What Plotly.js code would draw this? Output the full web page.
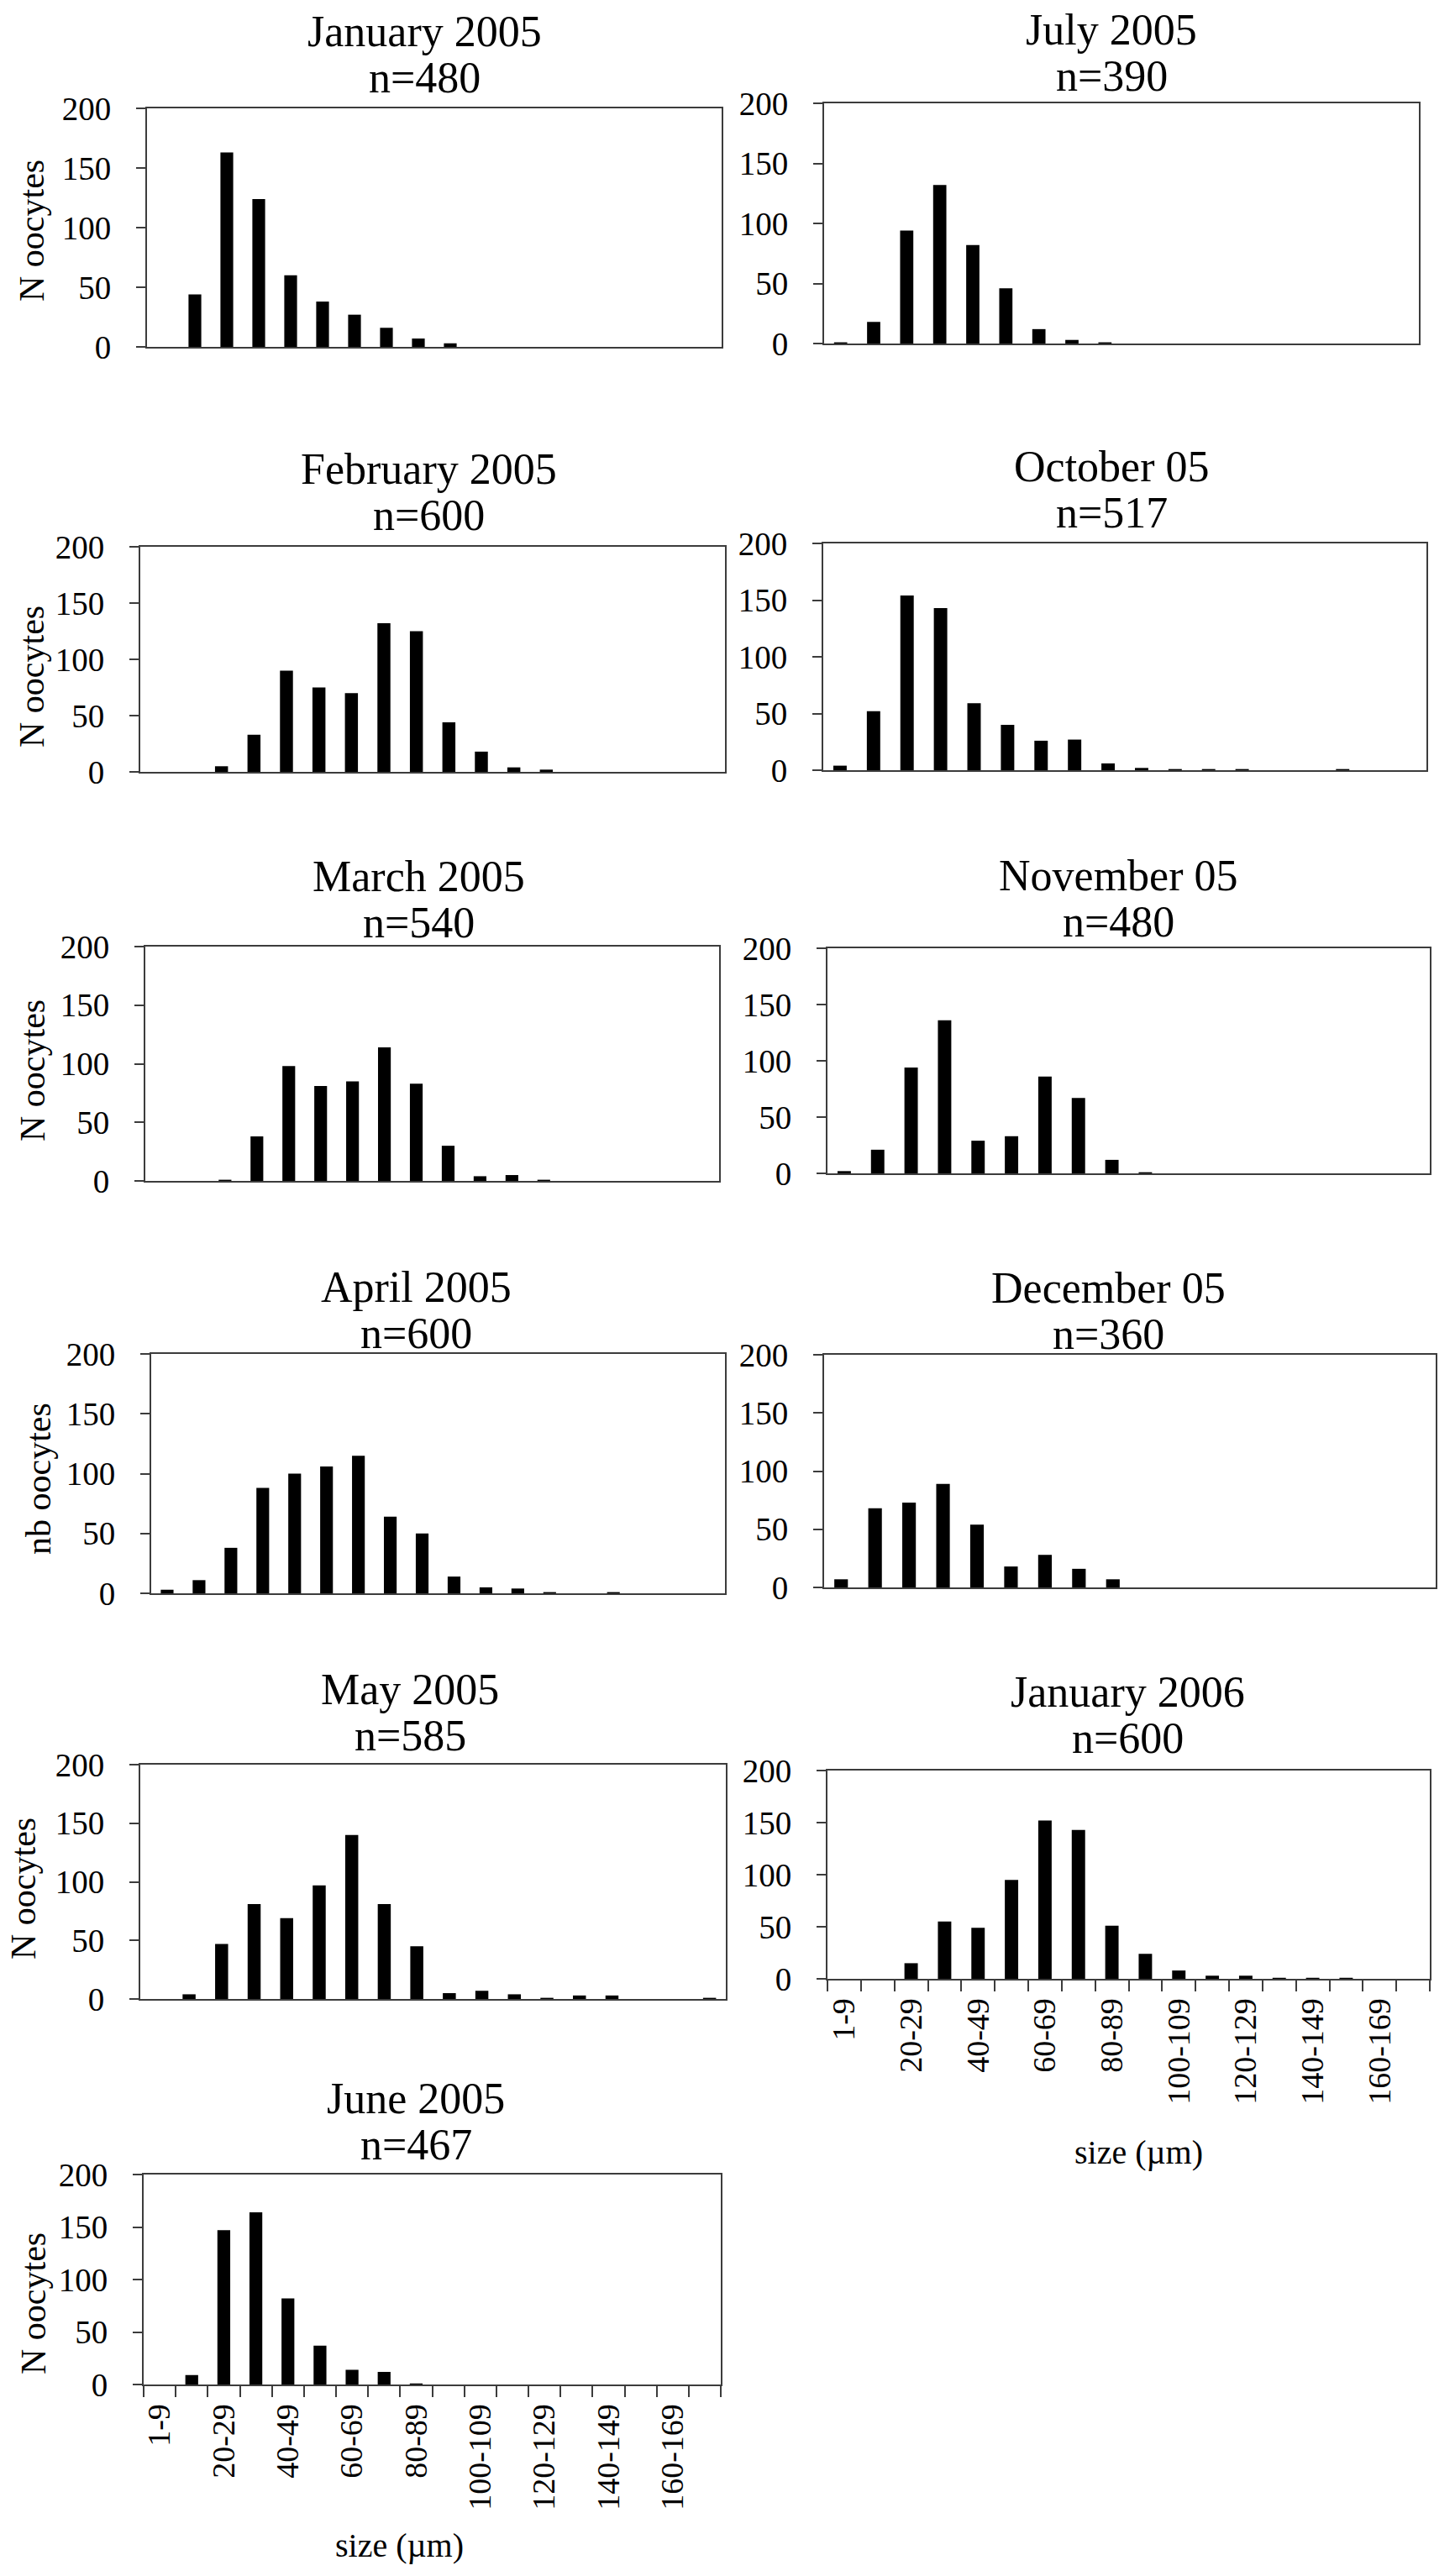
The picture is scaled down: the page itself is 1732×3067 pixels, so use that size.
<!DOCTYPE html>
<html>
<head>
<meta charset="utf-8">
<script src="https://cdn.plot.ly/plotly-3.0.1.min.js"></script>
<style>
body {margin:0; background:#ffffff;}
#chart {width:1732px; height:3067px;}
</style>
</head>
<body>
<div id="chart"></div>
<script>
///////////////////////////////////////////////////////////////////////////////
// oocyte size classes (um)
const categories = ["1-9","10-19","20-29","30-39","40-49","50-59","60-69","70-79","80-89",
    "90-99","100-109","110-119","120-129","130-139","140-149","150-159","160-169","170-179"];
const tickLabels = ["1-9","","20-29","","40-49","","60-69","","80-89",
    "","100-109","","120-129","","140-149","","160-169",""];

// number of oocytes per size class
const jan05 = [0,44,163,124,60,38,27,16,7,3,0,0,0,0,0,0,0,0];
const feb05 = [0,0,5,33,90,75,70,132,125,44,18,4,2,0,0,0,0,0];
const mar05 = [0,0,1,38,98,81,85,114,83,30,4,5,1,0,0,0,0,0];
const apr05 = [3,11,38,88,100,106,115,64,50,14,5,4,1,0,1,0,0,0];
const may05 = [0,4,47,81,69,97,140,81,45,5,7,4,1,3,3,0,0,1];
const jun05 = [0,9,147,164,82,37,14,12,1,0,0,0,0,0,0,0,0,0];
const jul05 = [1,18,94,132,82,46,12,3,1,0,0,0,0,0,0,0,0,0];
const oct05 = [4,52,154,143,59,40,26,27,6,2,1,1,1,0,0,1,0,0];
const nov05 = [2,21,94,136,29,33,86,67,12,1,0,0,0,0,0,0,0,0];
const dec05 = [7,68,73,89,54,18,28,16,7,0,0,0,0,0,0,0,0,0];
const jan06 = [0,0,15,55,49,95,152,143,51,24,8,3,3,1,1,1,0,0];

const series  = [jan05, feb05, mar05, apr05, may05, jun05, jul05, oct05, nov05, dec05, jan06];
const months  = ["January 2005","February 2005","March 2005","April 2005","May 2005","June 2005",
                 "July 2005","October 05","November 05","December 05","January 2006"];
const nLabels = ["n=480","n=600","n=540","n=600","n=585","n=467",
                 "n=390","n=517","n=480","n=360","n=600"];
const yTitles = ["N oocytes","N oocytes","N oocytes","nb oocytes","N oocytes","N oocytes",
                 "","","","",""];
const yTicks  = [0,50,100,150,200];

///////////////////////////////////////////////////////////////////////////////
// page geometry (pixels): frame = [left, right, top, bottom]
const W = 1732, H = 3067;
const geometry = [
    {frame:[175,859,129,413],   tx:505,  base:57,   yx:38, yy:275},
    {frame:[167,863,651,919],   tx:510,  base:578,  yx:38, yy:806},
    {frame:[173,856,1127,1406], tx:498,  base:1063, yx:39, yy:1275},
    {frame:[180,863,1612,1897], tx:495,  base:1552, yx:46, yy:1761},
    {frame:[167,864,2101,2380], tx:488,  base:2031, yx:28, yy:2249},
    {frame:[171,858,2589,2839], tx:495,  base:2518, yx:40, yy:2743, xt:[475,3030]},
    {frame:[981,1689,123,409],  tx:1323, base:55},
    {frame:[980,1698,647,917],  tx:1323, base:575},
    {frame:[985,1702,1129,1397],tx:1331, base:1062},
    {frame:[981,1709,1613,1890],tx:1319, base:1553},
    {frame:[985,1702,2108,2356],tx:1342, base:2034, xt:[1355,2562]},
];

const FONT = 'Liberation Serif, Times New Roman, serif';
const LINE = '#3c3c3c';
const TITLE_SIZE = 52;

function px(x) { return x / W; }
function py(y) { return 1 - y / H; }

function label(text, x, y, size, extra)
{
    let a = {
        text: text, xref:'paper', yref:'paper', x: px(x), y: py(y),
        showarrow:false, font:{family:FONT, size:size, color:'black'},
        xanchor:'center', yanchor:'bottom',
    };
    return Object.assign(a, extra || {});
}

///////////////////////////////////////////////////////////////////////////////
function graph_create(container)
{
    let plot_traces = [];
    let plot_layout = {
        width: W, height: H,
        margin: {l:0, r:0, t:0, b:0},
        showlegend: false,
        paper_bgcolor: 'white',
        plot_bgcolor: 'white',
        bargap: 0.6,
        font: {family:FONT, color:'black', size:38},
        annotations: [],
    };

    geometry.forEach((g, i) => {
        let k = (i === 0) ? '' : String(i + 1);
        let f = g.frame;
        let bottomRow = !!g.xt;

        plot_traces.push({
            type:'bar', x:categories, y:series[i],
            xaxis:'x' + k, yaxis:'y' + k,
            marker:{color:'black'},
            name: months[i],
        });

        plot_layout['xaxis' + k] = {
            domain:[px(f[0]), px(f[1])], anchor:'y' + k,
            type:'category', categoryorder:'array', categoryarray:categories,
            range:[-0.5, 17.5], fixedrange:true,
            showline:true, mirror:true, linecolor:LINE, linewidth:2,
            showgrid:false, zeroline:false,
            ticks: bottomRow ? 'outside' : '', ticklen:13, tickwidth:2, tickcolor:LINE,
            tickson:'boundaries',
            tickmode:'array', tickvals:categories, ticktext:tickLabels,
            showticklabels: bottomRow, tickangle:-90, ticklabelstandoff:6,
            tickfont:{family:FONT, size:38, color:'black'},
        };
        plot_layout['yaxis' + k] = {
            domain:[py(f[3]), py(f[2])], anchor:'x' + k,
            range:[0, 200], fixedrange:true,
            tickmode:'array', tickvals:yTicks,
            ticks:'outside', ticklen:11, tickwidth:2, tickcolor:LINE,
            ticklabelstandoff:22,
            showline:true, mirror:true, linecolor:LINE, linewidth:2,
            showgrid:false, zeroline:false,
            tickfont:{family:FONT, size:39, color:'black'},
        };

        // two-line panel title
        let d = Math.round(TITLE_SIZE * 0.22);
        plot_layout.annotations.push(label(months[i], g.tx, g.base + d, TITLE_SIZE));
        plot_layout.annotations.push(label(nLabels[i], g.tx, g.base + 55 + d, TITLE_SIZE));

        if (yTitles[i]) {
            plot_layout.annotations.push(label(yTitles[i], g.yx, g.yy, 42,
                {textangle:-90, yanchor:'middle'}));
        }
        if (g.xt) {
            plot_layout.annotations.push(label('size (\u00b5m)', g.xt[0], g.xt[1], 40,
                {yanchor:'middle'}));
        }
    });

    let plot_container = document.getElementById(container);
    Plotly.newPlot(plot_container, plot_traces, plot_layout, {staticPlot:true});
    return plot_container;
}

graph_create('chart');
</script>
</body>
</html>
